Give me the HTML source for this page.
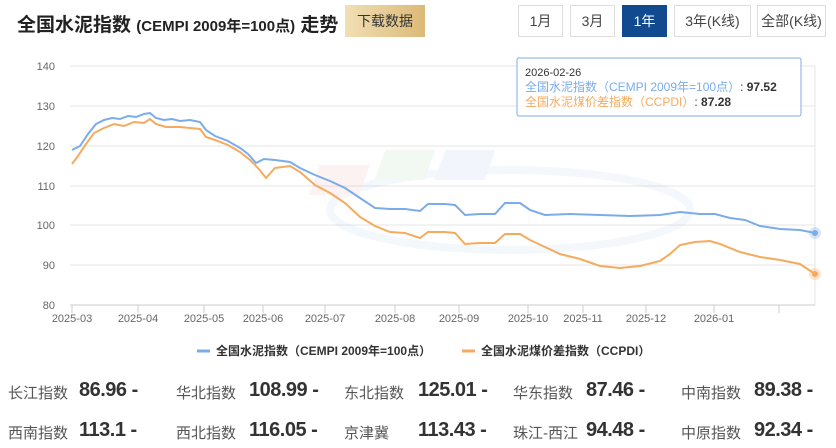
<!DOCTYPE html><html><head><meta charset="utf-8"><style>
body{margin:0;width:836px;height:448px;background:#fff;font-family:"Liberation Sans","Noto Sans CJK SC",sans-serif;position:relative;overflow:hidden;color:#333}
.t{position:absolute;left:17px;top:10px;font-size:19px;font-weight:bold;color:#222}
.t small{font-size:15px}
.dl{position:absolute;left:345px;top:5px;width:80px;height:32px;background:linear-gradient(90deg,#f1dfb5,#dcb977);font-size:14px;line-height:32px;text-align:center;color:#333}
.b{position:absolute;top:5px;height:30px;border:1px solid #ddd;font-size:14px;line-height:30px;text-align:center;color:#444;background:#fff}
.st{position:absolute;font-size:15px;color:#555}
.st b{font-size:20px;color:#333;position:absolute;top:-3px;white-space:nowrap;letter-spacing:-0.5px}
</style></head><body>
<div class="t">全国水泥指数 <small>(CEMPI 2009年=100点)</small> 走势</div>
<div class="dl">下载数据</div>
<div class="b" style="left:518px;width:43px">1月</div>
<div class="b" style="left:570px;width:43px">3月</div>
<div class="b" style="left:622px;width:43px;background:#124a8f;color:#fff;border-color:#124a8f">1年</div>
<div class="b" style="left:674px;width:75px">3年(K线)</div>
<div class="b" style="left:757px;width:67px">全部(K线)</div>
<svg width="836" height="448" style="position:absolute;left:0;top:0" font-family="Liberation Sans,Noto Sans CJK SC,sans-serif">
<g stroke="#e6e6e6"><line x1="70" x2="815" y1="66" y2="66"/><line x1="70" x2="815" y1="106" y2="106"/><line x1="70" x2="815" y1="146" y2="146"/><line x1="70" x2="815" y1="186" y2="186"/><line x1="70" x2="815" y1="225" y2="225"/><line x1="70" x2="815" y1="265" y2="265"/><line x1="815" x2="815" y1="66" y2="305"/></g>
<line x1="70" x2="815" y1="305" y2="305" stroke="#ccc"/>
<g stroke="#ccc"><line x1="72" x2="72" y1="305" y2="313"/><line x1="138" x2="138" y1="305" y2="313"/><line x1="204" x2="204" y1="305" y2="313"/><line x1="263" x2="263" y1="305" y2="313"/><line x1="325" x2="325" y1="305" y2="313"/><line x1="395" x2="395" y1="305" y2="313"/><line x1="459" x2="459" y1="305" y2="313"/><line x1="528" x2="528" y1="305" y2="313"/><line x1="583" x2="583" y1="305" y2="313"/><line x1="646" x2="646" y1="305" y2="313"/><line x1="714" x2="714" y1="305" y2="313"/><line x1="779" x2="779" y1="305" y2="313"/></g>
<g font-size="11" fill="#666" text-anchor="end"><text x="55" y="70">140</text><text x="55" y="110">130</text><text x="55" y="150">120</text><text x="55" y="190">110</text><text x="55" y="229">100</text><text x="55" y="269">90</text><text x="55" y="309">80</text></g>
<g font-size="11" fill="#666" text-anchor="middle"><text x="72" y="322">2025-03</text><text x="138" y="322">2025-04</text><text x="204" y="322">2025-05</text><text x="263" y="322">2025-06</text><text x="325" y="322">2025-07</text><text x="395" y="322">2025-08</text><text x="459" y="322">2025-09</text><text x="528" y="322">2025-10</text><text x="583" y="322">2025-11</text><text x="646" y="322">2025-12</text><text x="714" y="322">2026-01</text></g>
<g opacity="0.06"><ellipse cx="510" cy="210" rx="180" ry="40" fill="none" stroke="#4a8fd0" stroke-width="8"/><rect x="380" y="165" width="50" height="30" fill="#d33" transform="skewX(-20)"/><rect x="440" y="150" width="50" height="30" fill="#393" transform="skewX(-20)"/><rect x="500" y="150" width="50" height="30" fill="#36c" transform="skewX(-20)"/></g>
<polyline fill="none" stroke="#7aacea" stroke-width="2" points="72,150 80,146 88,134 96,124 104,120 112,118 120,119 128,116 136,117 144,114 150,113 156,118 164,120 172,119 180,121 190,120 200,122 206,130 215,136 228,141 240,148 248,154 256,163 264,159 275,160 290,162 300,168 315,175 330,181 345,188 360,198 375,208 390,209 405,209 420,211 428,204 445,204 455,205 465,215 480,214 495,214 505,203 520,203 530,210 545,215 570,214 600,215 630,216 660,215 680,212 700,214 715,214 730,218 745,220 760,226 780,229 800,230 815,233"/>
<polyline fill="none" stroke="#f6aa5e" stroke-width="2" points="72,164 78,156 86,144 94,133 104,128 114,124 124,126 134,122 144,123 150,119 156,124 166,127 180,127 200,129 206,137 215,140 228,145 240,152 250,160 258,168 266,178 275,168 290,166 300,172 315,185 330,193 345,203 360,217 375,226 390,232 405,233 420,238 428,232 445,232 455,233 465,244 480,243 495,243 505,234 520,234 530,240 545,247 560,254 580,259 600,266 620,268 640,266 660,261 670,254 680,245 695,242 710,241 720,244 740,252 760,257 780,260 800,264 815,274"/>
<circle cx="815" cy="233" r="6" fill="#7aacea" opacity="0.3"/><circle cx="815" cy="233" r="3" fill="#7aacea"/>
<circle cx="815" cy="274" r="6" fill="#f6aa5e" opacity="0.3"/><circle cx="815" cy="274" r="3" fill="#f6aa5e"/>
<rect x="517" y="58" width="284" height="58" fill="#fff" fill-opacity="0.92" stroke="#7aacea" rx="2"/>
<text x="525" y="76" font-size="11" fill="#333">2026-02-26</text>
<text x="525" y="91" font-size="12" fill="#7aacea">全国水泥指数（CEMPI 2009年=100点）<tspan fill="#333">: </tspan><tspan fill="#333" font-weight="bold">97.52</tspan></text>
<text x="525" y="106" font-size="12" fill="#f6aa5e">全国水泥煤价差指数（CCPDI）<tspan fill="#333">: </tspan><tspan fill="#333" font-weight="bold">87.28</tspan></text>
<line x1="197" x2="210" y1="351" y2="351" stroke="#7aacea" stroke-width="3"/>
<text x="216" y="355" font-size="12" fill="#333" font-weight="bold">全国水泥指数（CEMPI 2009年=100点）</text>
<line x1="462" x2="475" y1="351" y2="351" stroke="#f6aa5e" stroke-width="3"/>
<text x="481" y="355" font-size="12" fill="#333" font-weight="bold">全国水泥煤价差指数（CCPDI）</text>
</svg>
<div class="st" style="left:8px;top:382px">长江指数<b style="left:71px">86.96 -</b></div>
<div class="st" style="left:176px;top:382px">华北指数<b style="left:73px">108.99 -</b></div>
<div class="st" style="left:344px;top:382px">东北指数<b style="left:74px">125.01 -</b></div>
<div class="st" style="left:513px;top:382px">华东指数<b style="left:73px">87.46 -</b></div>
<div class="st" style="left:681px;top:382px">中南指数<b style="left:73px">89.38 -</b></div>
<div class="st" style="left:8px;top:422px">西南指数<b style="left:71px">113.1 -</b></div>
<div class="st" style="left:176px;top:422px">西北指数<b style="left:73px">116.05 -</b></div>
<div class="st" style="left:344px;top:422px">京津冀<b style="left:74px">113.43 -</b></div>
<div class="st" style="left:513px;top:422px">珠江-西江<b style="left:73px">94.48 -</b></div>
<div class="st" style="left:681px;top:422px">中原指数<b style="left:73px">92.34 -</b></div>
</body></html>
